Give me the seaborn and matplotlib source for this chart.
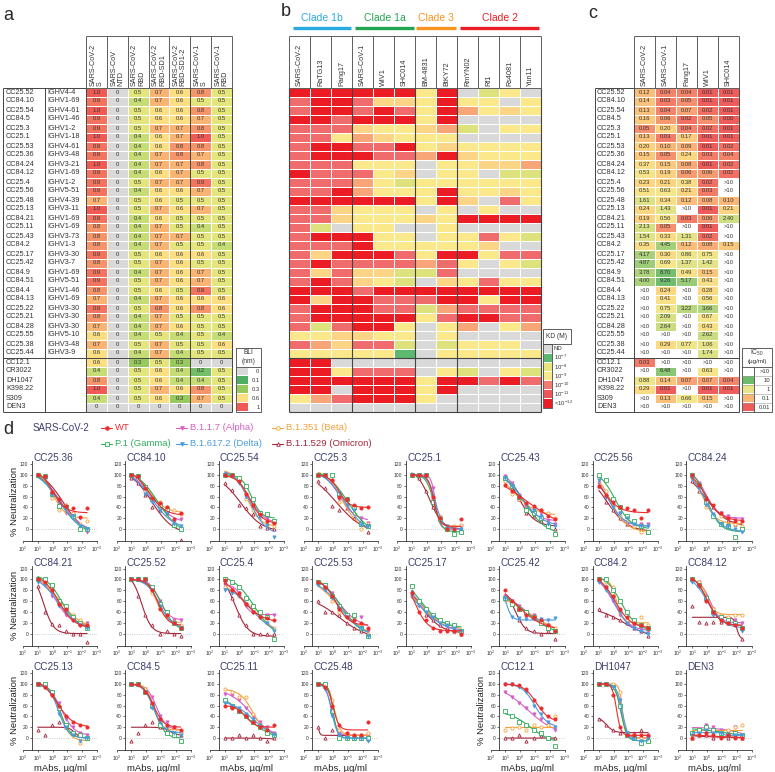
import numpy as np
import pandas as pd
import seaborn as sns
import matplotlib
matplotlib.use("Agg")
import matplotlib.pyplot as plt
from matplotlib.colors import ListedColormap, LinearSegmentedColormap, Normalize
from matplotlib.patches import Rectangle
from matplotlib.ticker import NullLocator

# ---------------- data: panels a-c ----------------
antibodies = ["CC25.52", "CC84.10", "CC25.54", "CC84.5", "CC25.3", "CC25.1", "CC25.53", "CC25.36",
              "CC84.24", "CC84.12", "CC25.4", "CC25.56", "CC25.48", "CC25.13", "CC84.21", "CC25.11",
              "CC25.43", "CC84.2", "CC25.17", "CC25.42", "CC84.9", "CC84.51", "CC84.4", "CC84.13",
              "CC25.22", "CC25.21", "CC84.28", "CC25.55", "CC25.38", "CC25.44",
              "CC12.1", "CR3022", "DH1047", "K398.22", "S309", "DEN3"]
ighv = ["IGHV4-4", "IGHV1-69", "IGHV4-61", "IGHV1-46", "IGHV1-2", "IGHV1-18", "IGHV4-61", "IGHV3-48",
        "IGHV3-21", "IGHV1-69", "IGHV1-2", "IGHV5-51", "IGHV4-39", "IGHV3-11", "IGHV1-69", "IGHV1-69",
        "IGHV3-73", "IGHV1-3", "IGHV3-30", "IGHV3-7", "IGHV1-69", "IGHV5-51", "IGHV1-46", "IGHV1-69",
        "IGHV3-30", "IGHV3-30", "IGHV3-30", "IGHV5-10", "IGHV3-48", "IGHV3-9",
        "", "", "", "", "", ""]

a_cols = ["SARS-CoV-2\nS", "SARS-CoV\nNTD", "SARS-CoV-2\nRBD", "SARS-CoV-2\nRBD-SD1",
          "SARS-CoV-2\nRBD-SD1-2", "SARS-CoV-1\nS", "SARS-CoV-1\nRBD"]
a_bli = [
    [1.0, 0, 0.5, 0.7, 0.6, 0.8, 0.5], [0.9, 0, 0.4, 0.7, 0.6, 0.5, 0.5],
    [1.0, 0, 0.5, 0.6, 0.6, 0.8, 0.5], [0.9, 0, 0.5, 0.6, 0.6, 0.7, 0.5],
    [0.9, 0, 0.5, 0.7, 0.7, 0.8, 0.5], [1.0, 0, 0.4, 0.6, 0.7, 1.0, 0.5],
    [0.9, 0, 0.4, 0.6, 0.8, 0.8, 0.5], [0.9, 0, 0.4, 0.7, 0.8, 0.7, 0.5],
    [1.0, 0, 0.4, 0.7, 0.7, 0.8, 0.5], [0.9, 0, 0.4, 0.6, 0.7, 0.5, 0.5],
    [0.9, 0, 0.5, 0.7, 0.7, 0.9, 0.5], [0.9, 0, 0.4, 0.6, 0.6, 0.7, 0.5],
    [0.7, 0, 0.5, 0.6, 0.5, 0.5, 0.5], [1.0, 0, 0.5, 0.7, 0.6, 0.7, 0.5],
    [0.9, 0, 0.4, 0.6, 0.5, 0.5, 0.5], [0.8, 0, 0.4, 0.7, 0.5, 0.4, 0.5],
    [0.8, 0, 0.4, 0.7, 0.7, 0.5, 0.5], [0.8, 0, 0.4, 0.7, 0.5, 0.5, 0.4],
    [0.9, 0, 0.5, 0.6, 0.6, 0.6, 0.5], [0.8, 0, 0.5, 0.7, 0.6, 0.5, 0.5],
    [0.9, 0, 0.4, 0.7, 0.6, 0.7, 0.5], [0.9, 0, 0.5, 0.7, 0.6, 0.7, 0.5],
    [0.8, 0, 0.5, 0.6, 0.5, 0.9, 0.5], [0.7, 0, 0.4, 0.7, 0.6, 0.6, 0.6],
    [0.9, 0, 0.5, 0.8, 0.6, 0.8, 0.6], [0.8, 0, 0.4, 0.7, 0.5, 0.5, 0.5],
    [0.7, 0, 0.4, 0.7, 0.6, 0.5, 0.5], [0.6, 0, 0.4, 0.5, 0.4, 0.5, 0.4],
    [0.7, 0, 0.5, 0.7, 0.5, 0.5, 0.6], [0.6, 0, 0.4, 0.7, 0.4, 0.5, 0.5],
    [0.6, 0, 0.3, 0.5, 0.3, 0, 0], [0.4, 0, 0.5, 0.6, 0.4, 0.2, 0.5],
    [0.8, 0, 0.5, 0.6, 0.4, 0.4, 0.5], [1.0, 0, 0.5, 0.7, 0.6, 0.8, 0.5],
    [0.4, 0, 0.5, 0.6, 0.3, 0.7, 0.5], [0, 0, 0, 0, 0, 0, 0],
]

b_cols = ["SARS-CoV-2", "RaTG13", "Pang17", "SARS-CoV-1", "WIV1", "SHC014",
          "BM-4831", "BtKY72", "RmYN02", "Rf1", "Rs4081", "Yun11"]
# N=ND, G=1e-7, V=1e-8, Y=1e-9, L/O=1e-9..1e-10, S=1e-11, R=<1e-12
b_kd = ["RRRRRRYRNVYN", "SRRSLLYRYYNY", "SRRSRSYROYLY", "RRSRRRYRNNNN", "SSSLYYLOVNYY",
        "SSYOLYYYNNNN", "SRRSSRYLYYYY", "SRRRSSORLYYY", "SSSYYYNYYLLO", "RSSSYLNYYNVV",
        "SSSOYVYYYYYY", "SSROYYYRYYLY", "RRRRRRYRLNSY", "SSLYYYNYNYNN", "SSLYYYLYRRRR",
        "SVNYYNNYNNNN", "SRRRYYNYYSYV", "SSSRYYYYYLNN", "SLRRRSYRRYSS", "SRSSSSOSYNYV",
        "SLSLLVVSNNNN", "SRSLYVNLYSYY", "RRRSRRRRRRRR", "RLRRSSSRRYRR", "SRRRSSVOSSSS",
        "SRRRRRYSRRSS", "SVSRRYNYONYO", "YYLLYYNYNNNN", "SOLSSVNVYYYN", "YYYYYGNYYYYY",
        "RRNNNNNNNNNN", "RRYSSSNYVNYV", "RRRRRRYRRSRS", "RRNRRRYRNNNN", "YOSRRRYNNNNN",
        "NNNNNNNNNNNN"]

c_cols = ["SARS-CoV-2", "SARS-CoV-1", "Pang17", "WIV1", "SHC014"]
# None = >10 ug/ml
c_ic50 = [
    [0.12, 0.04, 0.04, 0.01, 0.01], [0.14, 0.03, 0.05, 0.01, 0.01], [0.13, 0.04, 0.07, 0.02, 0.01],
    [0.16, 0.06, 0.02, 0.05, 0.00], [0.05, 0.20, 0.04, 0.02, 0.01], [0.13, 0.03, 0.17, 0.01, 0.01],
    [0.20, 0.10, 0.09, 0.01, 0.02], [0.15, 0.05, 0.24, 0.03, 0.04], [0.37, 0.15, 0.08, 0.01, 0.02],
    [0.53, 0.19, 0.06, 0.06, 0.02], [0.23, 0.21, 0.38, 0.02, None], [0.51, 0.63, 0.21, 0.03, None],
    [1.61, 0.34, 0.12, 0.08, 0.10], [0.24, 1.43, None, 0.01, 0.21], [0.19, 0.56, 0.03, 0.06, 2.40],
    [2.13, 0.05, None, 0.01, None], [1.54, 0.33, 1.31, 0.02, None], [0.35, 4.45, 0.12, 0.08, 0.15],
    [4.17, 0.30, 0.86, 0.75, None], [4.87, 0.69, 1.37, 1.42, None], [3.78, 8.70, 0.49, 0.15, None],
    [4.00, 9.26, 5.17, 0.43, None], [None, 0.24, None, 0.28, None], [None, 0.41, None, 0.56, None],
    [None, 0.75, 3.22, 3.66, None], [None, 2.09, None, 0.67, None], [None, 2.64, None, 0.43, None],
    [None, None, None, 2.62, None], [None, 0.29, 0.77, 1.06, None], [None, None, None, 1.74, None],
    [0.03, None, None, None, None], [None, 6.48, None, 0.63, None], [0.88, 0.14, 0.07, 0.07, 0.04],
    [0.29, 0.01, None, 0.01, 0.01], [None, 0.13, 0.66, 0.15, None], [None, None, None, None, None],
]

# ---------------- data: panel d (% neutralization) ----------------
d_conc = [10, 3.33, 1.11, 0.37, 0.123, 0.041, 0.0137, 0.0046]
variants = ["WT", "B.1.1.7 (Alpha)", "B.1.351 (Beta)", "P.1 (Gamma)", "B.1.617.2 (Delta)", "B.1.1.529 (Omicron)"]
# each panel: WT, Alpha, Beta, Gamma, Delta, Omicron
cc25_36 = [[100, 98, 68, 55, 42, 38, 22, 38], [100, 95, 68, 50, 30, 28, 20, -5], [100, 96, 58, 35, 45, 30, 10, 15],
           [100, 98, 65, 42, 40, 25, 0, 0], [98, 95, 62, 50, 38, 25, 5, 0], [100, 96, 68, 55, 45, 30, 5, 0]]
cc84_10 = [[100, 98, 75, 58, 48, 40, 18, 30], [100, 97, 70, 55, 45, 38, 15, 18], [100, 98, 70, 60, 50, 40, 35, 28],
           [100, 98, 78, 55, 45, 35, 8, 0], [100, 96, 65, 50, 35, 30, 10, 5], [95, 85, 62, 40, 35, 30, 8, -20]]
cc25_54 = [[100, 100, 88, 65, 45, 28, 15, 12], [100, 100, 90, 62, 45, 30, 20, 15], [100, 100, 88, 55, 35, 20, 8, 5],
           [100, 100, 95, 80, 55, 30, 28, 15], [100, 98, 85, 60, 40, 22, 8, -15], [85, 72, 45, 38, 28, 5, 2, 0]]
cc25_3 = [[100, 100, 90, 60, 55, 45, 38, 40], [100, 100, 85, 55, 40, 35, 20, 12], [100, 100, 90, 50, 45, 30, 0, 10],
          [100, 100, 100, 65, 55, 40, 10, 5], [100, 98, 88, 60, 45, 35, 8, 5], [88, 75, 42, 35, 38, 20, 15, -5]]
cc25_1 = [[100, 100, 100, 60, 20, 0, 0, 18], [100, 100, 100, 75, 15, 0, 0, 5], [100, 100, 100, 55, 25, 0, 5, 8],
          [100, 100, 100, 50, 18, 0, -10, -5], [100, 100, 100, 60, 20, 5, 0, 0], [100, 95, 70, 40, 20, 5, 0, 0]]
cc25_43 = [[82, 70, 60, 48, 42, 35, 25, 18], [98, 85, 62, 40, 35, 30, 15, 10], [88, 65, 55, 45, 40, 35, 30, 20],
           [95, 80, 60, 35, 30, 20, 5, -10], [95, 80, 60, 45, 35, 25, 10, 5], [95, 75, 55, 30, 25, 15, 10, 0]]
cc25_56 = [[80, 62, 50, 40, 38, 35, 20, 35], [85, 60, 45, 30, 10, 5, 10, 10], [95, 70, 40, 25, 15, 5, -5, -5],
           [100, 90, 55, 40, 25, 15, 5, -5], [90, 60, 40, 30, 20, 10, 5, 5], [80, 50, 35, 20, 10, 5, 0, -5]]
cc84_24 = [[100, 82, 55, 45, 30, 20, 15, 15], [100, 85, 58, 42, 30, 25, 18, 18], [95, 78, 40, 25, 25, 20, 10, 5],
           [100, 82, 50, 25, 10, 5, -15, 0], [95, 75, 45, 28, 10, 5, 0, -5], [88, 70, 55, 40, 30, 15, 10, 5]]
cc84_21 = [[100, 95, 80, 55, 45, 25, 15, 15], [100, 95, 70, 55, 35, 25, 20, 20], [100, 92, 82, 60, 45, 35, 25, 15],
           [100, 100, 90, 60, 50, 30, 20, 10], [95, 90, 75, 50, 40, 25, 15, 10], [88, 40, 18, 15, 5, 0, 0, -15]]
cc25_52 = [[100, 100, 100, 80, 45, 35, 20, 10], [100, 100, 100, 82, 60, 40, 25, 25], [100, 100, 98, 75, 48, 35, 22, 15],
           [100, 100, 100, 85, 55, 40, 20, 10], [100, 100, 95, 80, 50, 35, 20, 10], [100, 70, 35, 15, 0, 5, 0, -5]]
cc25_4 = [[98, 80, 75, 55, 40, 30, 28, 25], [95, 80, 75, 50, 40, 30, 35, 35], [85, 80, 70, 55, 45, 35, 20, 10],
          [100, 95, 85, 65, 50, 40, 30, -10], [80, 75, 70, 55, 40, 30, 20, 5], [95, 65, 35, 15, 0, 0, 0, 0]]
cc25_53 = [[95, 85, 70, 45, 30, 25, 20, 10], [95, 90, 75, 50, 35, 30, 30, 5], [92, 85, 60, 40, 35, 30, 15, 0],
           [95, 90, 70, 50, 35, 35, 10, -5], [90, 80, 65, 45, 30, 25, 10, -5], [60, 40, 40, 35, 20, 10, 5, 0]]
cc25_17 = [[75, 40, 25, 10, 5, 5, 5, 0], [75, 55, 45, 30, 20, 15, 10, 5], [70, 55, 40, 30, 25, 20, 15, 5],
           [88, 60, 45, 35, 25, 20, 15, 5], [70, 50, 40, 30, 20, 15, 10, 5], [78, 55, 35, 25, 15, 10, 5, 0]]
cc25_42 = [[80, 60, 45, 35, 30, 25, 15, 5], [70, 60, 50, 40, 35, 25, 15, 5], [62, 55, 45, 40, 30, 25, 15, 10],
           [65, 55, 45, 40, 30, 20, 10, 5], [65, 30, 28, 27, 26, 27, 25, 28], [70, 55, 25, 10, 5, 0, 5, -10]]
cc84_2 = [[100, 85, 70, 45, 30, 20, 15, 10], [95, 85, 60, 35, 20, 15, 10, 5], [100, 95, 85, 40, 25, 20, 30, 15],
          [100, 100, 80, 60, 40, 25, 15, 10], [95, 80, 65, 40, 20, 10, 5, 0], [45, 35, 30, 25, 20, 10, 5, -5]]
cc84_12 = [[100, 90, 60, 40, 25, 20, 15, 10], [100, 95, 70, 45, 30, 20, 25, 20], [100, 95, 65, 45, 35, 30, 35, 35],
           [100, 90, 65, 40, 30, 25, 20, 10], [95, 85, 60, 35, 25, 20, 15, 5], [50, 22, 20, 22, 22, 20, 22, -10]]
cc25_13 = [[100, 95, 80, 60, 40, 30, 25, 20], [100, 95, 85, 65, 35, 20, 10, 5], [100, 95, 80, 55, 20, 5, -10, 0],
           [100, 100, 85, 55, 25, 10, 5, 0], [100, 95, 80, 45, 20, 5, -5, 0], [15, 5, 25, 30, 20, 10, 5, 0]]
cc84_5 = [[100, 100, 85, 65, 35, 25, 20, 15], [100, 100, 90, 75, 40, 30, 20, 10], [100, 100, 90, 60, 30, 20, 15, 10],
          [100, 100, 85, 60, 25, 10, 5, -5], [100, 98, 85, 55, 30, 20, 10, 5], [-5, 10, 25, 30, 20, 15, 10, 5]]
cc25_11 = [[60, 55, 50, 40, 30, 20, 15, 25], [82, 80, 70, 55, 40, 30, 20, 10], [90, 85, 75, 75, 45, 25, 15, 5],
           [70, 60, 50, 40, 30, 20, 10, 5], [65, 60, 55, 45, 35, 25, 15, 5], [0, 0, 5, 0, 5, 0, -5, 0]]
cc25_48 = [[100, 95, 60, 25, 10, 5, 5, 30], [100, 90, 45, 10, 5, 0, 0, 5], [100, 95, 70, 15, 10, 5, 5, 10],
           [100, 100, 50, 0, 0, 0, 0, 0], [100, 90, 40, 5, 0, 0, 0, -5], [20, 0, 15, 10, 5, 0, 0, 5]]
cc12_1 = [[100, 100, 98, 90, 70, 55, 40, 35], [85, 75, 65, 55, 45, 35, 25, 15], [15, 18, 20, 15, 25, 20, 25, 40],
          [50, 40, 30, 25, 15, 10, 0, -15], [100, 100, 95, 85, 60, 45, 30, 20], [0, 0, 5, -5, 0, 5, 0, 0]]
dh1047 = [[100, 100, 80, 20, 5, 5, 5, 5], [100, 100, 95, 55, 10, 5, 0, 0], [100, 100, 100, 85, 10, 5, 0, -5],
          [100, 100, 95, 60, 5, 0, -10, -5], [100, 100, 95, 70, 10, 0, -5, 0], [35, 25, 15, 10, 5, 10, 15, 5]]
den3 = [[0, 5, 10, 5, 0, 5, 0, 0], [10, 15, 25, 20, 15, 10, 20, 5], [5, 10, 15, 10, 5, 15, 20, 25],
        [10, 15, 20, 15, 10, 5, 10, 5], [5, 10, 15, 10, 10, 5, 5, 5], [0, 5, 5, 0, 5, 0, 5, 0]]

d_panels = [("CC25.36", cc25_36), ("CC84.10", cc84_10), ("CC25.54", cc25_54), ("CC25.3", cc25_3),
            ("CC25.1", cc25_1), ("CC25.43", cc25_43), ("CC25.56", cc25_56), ("CC84.24", cc84_24),
            ("CC84.21", cc84_21), ("CC25.52", cc25_52), ("CC25.4", cc25_4), ("CC25.53", cc25_53),
            ("CC25.17", cc25_17), ("CC25.42", cc25_42), ("CC84.2", cc84_2), ("CC84.12", cc84_12),
            ("CC25.13", cc25_13), ("CC84.5", cc84_5), ("CC25.11", cc25_11), ("CC25.48", cc25_48),
            ("CC12.1", cc12_1), ("DH1047", dh1047), ("DEN3", den3)]
d_slots = [(0, c) for c in range(8)] + [(1, c) for c in range(8)] + [(2, 0), (2, 1), (2, 2), (2, 3), (2, 5), (2, 6), (2, 7)]

# ---------------- style ----------------
sns.set_theme(style="ticks")
plt.rcParams["font.family"] = ["Liberation Sans", "DejaVu Sans"]
plt.rcParams["mathtext.default"] = "regular"

W, H = 775, 772
fig = plt.figure(figsize=(W / 100, H / 100), dpi=100)


def box(x0, y0, x1, y1):
    return [x0 / W, 1 - y1 / H, (x1 - x0) / W, (y1 - y0) / H]


ov = fig.add_axes([0, 0, 1, 1], zorder=10)
ov.set_xlim(0, W)
ov.set_ylim(H, 0)
ov.axis("off")


def line(xs, ys, lw=0.7, c="#444444"):
    ov.plot(xs, ys, color=c, lw=lw, solid_capstyle="butt")


ROW0, RH = 87.5, 9.0
BOT = ROW0 + RH * len(antibodies)
SEP = ROW0 + RH * 30
HDR = 36
TXT = "#333333"


def heat(values, x0, x1, cmap, vmin, vmax, annot=False):
    ax = fig.add_axes(box(x0, ROW0, x1, BOT))
    sns.heatmap(pd.DataFrame(values), ax=ax, cmap=cmap, vmin=vmin, vmax=vmax, cbar=False,
                annot=annot, fmt="", linewidths=0.45, linecolor="white",
                xticklabels=False, yticklabels=False,
                annot_kws={"fontsize": 4.2, "color": TXT})
    return ax


def header(cols, x0, cw):
    for j, name in enumerate(cols):
        ov.text(x0 + cw * (j + 0.5), ROW0 - 2, name, rotation=90, rotation_mode="anchor",
                ha="left", va="center", fontsize=5.2, linespacing=1.0, color=TXT)
        line([x0 + cw * j] * 2, [HDR, ROW0], lw=0.6)
    line([x0 + cw * len(cols)] * 2, [HDR, ROW0], lw=0.6)
    line([x0, x0 + cw * len(cols)], [HDR, HDR], lw=0.6)
    line([x0, x0 + cw * len(cols)], [ROW0, ROW0], lw=0.6)


# ---------------- panel a ----------------
a_colors = ["#d9d9d9", "#4fae62", "#74be66", "#98c95f", "#c6dc75", "#e4e57c",
            "#fcdf82", "#f9b473", "#f6956a", "#f2745f", "#ef5a55"]
a_cmap = ListedColormap(a_colors)
a_text = np.array([["0" if v == 0 else f"{v:.1f}" for v in r] for r in a_bli])
ax_x0, ax_x1 = 86, 232
cw_a = (ax_x1 - ax_x0) / len(a_cols)
heat(np.array(a_bli), ax_x0, ax_x1, a_cmap, -0.05, 1.05, annot=a_text)
header(a_cols, ax_x0, cw_a)
for i, (ab, v) in enumerate(zip(antibodies, ighv)):
    y = ROW0 + RH * (i + 0.5)
    ov.text(6, y, ab, va="center", fontsize=5.2, color=TXT)
    ov.text(47, y, v, va="center", fontsize=5.2, color=TXT)
for x in [3, 45, ax_x0, ax_x0 + 5 * cw_a, ax_x1]:
    line([x, x], [ROW0, BOT])
line([3, ax_x0], [ROW0, ROW0])
line([3, ax_x1], [SEP, SEP])
line([3, ax_x1], [BOT, BOT])
ov.text(3, 15, "a", fontsize=13, va="center")

# BLI legend
ov.add_patch(Rectangle((236, 348), 25, BOT - 348, fill=False, ec="#444444", lw=0.6))
ov.text(248.5, 353, "BLI", ha="center", va="center", fontsize=4.8, color=TXT)
ov.text(248.5, 361.5, "(nm)", ha="center", va="center", fontsize=4.8, color=TXT)
line([236, 261], [367, 367], lw=0.6)
for k, (lab, idx) in enumerate(zip(["0", "0.1", "0.3", "0.6", "1"], [0, 1, 3, 6, 10])):
    y0 = 367 + k * (BOT - 367) / 5
    ov.add_patch(Rectangle((236.5, y0 + 0.5), 11, (BOT - 367) / 5 - 1, color=a_colors[idx], lw=0))
    ov.text(259.5, y0 + (BOT - 367) / 10, lab, ha="right", va="center", fontsize=4.2, color=TXT)

# ---------------- panel b ----------------
kd_codes = {"N": 0, "G": 1, "V": 2, "Y": 3, "L": 4, "O": 5, "S": 6, "R": 7}
b_colors = ["#d9d9d9", "#5db870", "#dde27c", "#fbe88a", "#fcd486", "#f8a578", "#f06b6b", "#ec1c24"]
b_matrix = np.array([[kd_codes[ch] for ch in row] for row in b_kd])
bx0, bx1 = 289, 541
cw_b = (bx1 - bx0) / len(b_cols)
heat(b_matrix, bx0, bx1, ListedColormap(b_colors), -0.5, 7.5)
header(b_cols, bx0, cw_b)
for j in [0, 3, 6, 8, 12]:
    line([bx0 + cw_b * j] * 2, [ROW0, BOT], lw=0.8)
line([bx0, bx1], [SEP, SEP], lw=0.8)
line([bx0, bx1], [BOT, BOT], lw=0.8)
ov.text(281, 12, "b", fontsize=13, va="center")

clades = [("Clade 1b", 293, 351, "#29aae1"), ("Clade 1a", 355, 414, "#22a652"),
          ("Clade 3", 416, 456, "#f7941d"), ("Clade 2", 460, 539, "#ec1c24")]
for name, x0, x1, col in clades:
    ov.plot([x0, x1], [28, 28], color=col, lw=2.4, solid_capstyle="butt")
    ov.text((x0 + x1) / 2, 18, name, color=col, ha="center", va="center", fontsize=7.5)

# KD legend
ov.add_patch(Rectangle((543, 329), 28, 15, fill=False, ec="#444444", lw=0.6))
ov.text(557, 336.5, "KD (M)", ha="center", va="center", fontsize=4.8, color=TXT)
kd_labels = ["ND", "$10^{-7}$", "$10^{-8}$", "$10^{-9}$", "$10^{-10}$", "$10^{-11}$", "<$10^{-12}$"]
kd_swatch = ["#d9d9d9", "#5db870", "#e8e47f", "#fbe88a", "#f27c74", "#ef5656", "#ec1c24"]
kh = (408 - 344) / 7
ov.add_patch(Rectangle((543, 344), 9, 64, fill=False, ec="#444444", lw=0.6))
for k, (lab, col) in enumerate(zip(kd_labels, kd_swatch)):
    y0 = 344 + k * kh
    ov.add_patch(Rectangle((543.5, y0 + 0.5), 8, kh - 1, color=col, lw=0))
    ov.text(554, y0 + kh / 2, lab, va="center", fontsize=4.3, color=TXT)

# ---------------- panel c ----------------
c_cmap = LinearSegmentedColormap.from_list(
    "ic50", [(0, "#ee5c5c"), (0.2, "#f4836b"), (0.33, "#f9b677"), (0.45, "#fcd680"),
             (0.6, "#f6e68a"), (0.78, "#d6e184"), (1.0, "#6cbc6c")])
c_cmap.set_over("white")
c_log = np.array([[3.0 if v is None else np.log10(max(v, 0.01)) for v in r] for r in c_ic50])
c_text = np.array([[">10" if v is None else f"{v:.2f}" for v in r] for r in c_ic50])
cx0, cx1 = 634, 739
cw_c = (cx1 - cx0) / len(c_cols)
heat(c_log, cx0, cx1, c_cmap, -2, 1, annot=c_text)
header(c_cols, cx0, cw_c)
for i, ab in enumerate(antibodies):
    ov.text(597, ROW0 + RH * (i + 0.5), ab, va="center", fontsize=5.2, color=TXT)
for x in [595, cx0, cx1]:
    line([x, x], [ROW0, BOT])
line([595, cx0], [ROW0, ROW0])
line([595, cx1], [SEP, SEP])
line([595, cx1], [BOT, BOT])
ov.text(588, 13, "c", fontsize=13, va="center")

# IC50 legend
ov.add_patch(Rectangle((742, 348), 30, BOT - 348, fill=False, ec="#444444", lw=0.6))
ov.text(757, 353, "IC$_{50}$", ha="center", va="center", fontsize=4.8, color=TXT)
ov.text(757, 362, "(µg/ml)", ha="center", va="center", fontsize=4.5, color=TXT)
line([742, 772], [367, 367], lw=0.6)
line([754, 754], [367, BOT], lw=0.6)
c_norm = Normalize(-2, 1)
ih = (BOT - 367) / 5
for k, (lab, lv) in enumerate(zip([">10", "10", "1", "0.1", "0.01"], [3, 1, 0, -1, -2])):
    y0 = 367 + k * ih
    col = "white" if lv > 1 else c_cmap(c_norm(lv))
    ov.add_patch(Rectangle((742.5, y0 + 0.5), 11, ih - 1, color=col, lw=0))
    ov.text(770, y0 + ih / 2, lab, ha="right", va="center", fontsize=4.2, color=TXT)
    if k:
        line([742, 772], [y0, y0], lw=0.4, c="#999999")

# ---------------- panel d ----------------
v_colors = ["#ee2b2b", "#d65fc8", "#f7a13a", "#2fae5a", "#4b9be0", "#a3263c"]
v_markers = ["o", "v", "o", "s", "v", "^"]
v_filled = [True, True, False, False, True, False]

lx = np.log10(d_conc)
gb, gt, gl, gh = np.meshgrid(np.arange(-10, 45, 5), np.arange(0, 115, 10),
                             np.linspace(-3.5, 2, 56),
                             np.array([0.3, 0.45, 0.6, 0.8, 1.0, 1.3, 1.7, 2.2, 3, 4, 6]),
                             indexing="ij")
grid = np.stack([g.ravel() for g in (gb, gt, gl, gh)], axis=1)
grid = grid[grid[:, 1] >= grid[:, 0]]


def logistic(x, p):
    b, t, l, h = p
    return b + (t - b) / (1 + 10 ** np.clip((l - x) * h, -30, 30))


pred = np.stack([logistic(x, grid.T) for x in lx], axis=1)


def fit(y):
    sse = ((pred - np.asarray(y, float)) ** 2).sum(axis=1)
    return grid[np.argmin(sse)]


xs = np.logspace(1, np.log10(d_conc[-1]), 90)
xt = [100, 10, 1, 0.1, 0.01, 0.001]
xtl = ["$10^{2}$", "$10^{1}$", "$10^{0}$", "$10^{-1}$", "$10^{-2}$", "$10^{-3}$"]
DX, DY = 93.5, 104.5

for (title, data), (r, c) in zip(d_panels, d_slots):
    ax = fig.add_axes(box(23 + DX * c, 461.3 + DY * r, 97 + DX * c, 541 + DY * r))
    ax.set_xscale("log")
    ax.plot([10 ** 1.4, 0.001], [0, 0], color="#bbbbbb", lw=0.6, ls=":")
    for k in [5, 1, 2, 3, 4, 0]:
        p = fit(data[k])
        sns.lineplot(x=xs, y=logistic(np.log10(xs), p), ax=ax, color=v_colors[k], lw=0.8,
                     legend=False, estimator=None)
        ax.plot(d_conc, data[k], ls="none", marker=v_markers[k], ms=2.3,
                mfc=v_colors[k] if v_filled[k] else "white", mec=v_colors[k], mew=0.6)
    ax.set_xlim(100, 0.001)
    ax.set_ylim(-22, 125)
    ax.set_xticks(xt)
    ax.set_xticklabels(xtl)
    ax.xaxis.set_minor_locator(NullLocator())
    ax.set_yticks(range(0, 121, 20))
    ax.tick_params(labelsize=3.6, length=1.5, width=0.5, pad=1, colors="#333333")
    for s in ["top", "right"]:
        ax.spines[s].set_visible(False)
    for s in ["left", "bottom"]:
        ax.spines[s].set_linewidth(0.6)
        ax.spines[s].set_color("#333333")
    ax.spines["left"].set_position(("data", 10 ** 1.4))
    ax.set_xlabel("mAbs, µg/ml" if r == 2 else "", fontsize=6.8, labelpad=1, color="#222222")
    ax.set_ylabel("% Neutralization" if (c == 0 or (r == 2 and c == 5)) else "",
                  fontsize=6.8, labelpad=1, color="#222222")
    ov.text(33 + DX * c, 458 + DY * r, title, va="center", fontsize=7.2, color="#3b3f6b")

# panel d legend
ov.text(3, 430, "d", fontsize=13, va="center")
ov.text(33, 428, "SARS-CoV-2", va="center", fontsize=7, color="#3b3f6b")
leg_pos = [(101, 428), (176, 428), (272, 428), (101, 444), (176, 444), (272, 444)]
for k, (x0, y0) in enumerate(leg_pos):
    ov.plot([x0, x0 + 11], [y0, y0], color=v_colors[k], lw=0.8)
    ov.plot([x0 + 5.5], [y0], marker=v_markers[k], ms=2.6, color=v_colors[k],
            mfc=v_colors[k] if v_filled[k] else "white", mew=0.6)
    ov.text(x0 + 14, y0, variants[k], va="center", fontsize=6.8, color=v_colors[k])

fig.savefig("out.png", dpi=100)
